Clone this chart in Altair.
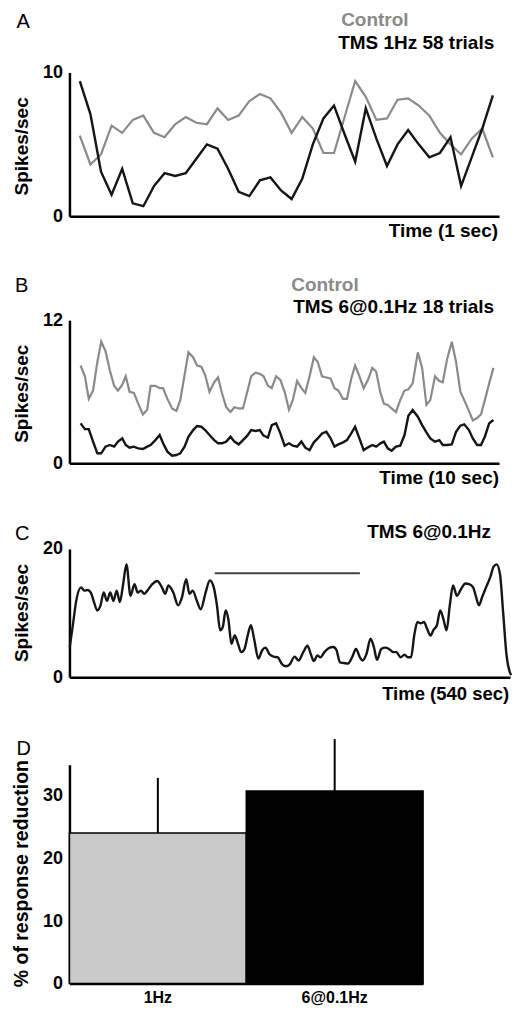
import altair as alt
import pandas as pd

FONT = "Liberation Sans"
GRAY = "#8a8a8a"
BLACK = "#151515"

# ---------------- Panel A data (1 s, 25 ms bins) ----------------
TIME_A = [12.5, 37.5, 62.5, 87.5, 112.5, 137.5, 162.5, 187.5, 212.5, 237.5,
          262.5, 287.5, 312.5, 337.5, 362.5, 387.5, 412.5, 437.5, 462.5, 487.5,
          512.5, 537.5, 562.5, 587.5, 612.5, 637.5, 662.5, 687.5, 712.5, 737.5,
          762.5, 787.5, 812.5, 837.5, 862.5, 887.5, 912.5, 937.5, 962.5, 987.5]
CONTROL_A = [5.6, 3.6, 4.3, 6.3, 5.8, 6.7, 7.0, 5.8, 5.5, 6.4,
             6.9, 6.5, 6.4, 7.5, 6.7, 7.0, 8.0, 8.5, 8.2, 7.2,
             5.8, 6.9, 6.1, 4.4, 4.4, 6.9, 9.4, 8.3, 6.7, 6.8,
             8.1, 8.2, 7.7, 7.0, 5.8, 5.0, 4.3, 5.4, 6.1, 4.1]
TMS_A = [9.4, 7.1, 3.1, 1.5, 3.3, 0.9, 0.7, 2.1, 3.0, 2.8,
         3.0, 4.0, 5.0, 4.7, 3.3, 1.7, 1.4, 2.5, 2.7, 1.8,
         1.2, 2.6, 5.0, 6.8, 7.7, 5.7, 3.8, 7.5, 5.4, 3.5,
         5.0, 6.0, 5.0, 4.1, 4.4, 5.5, 2.1, 4.1, 6.1, 8.4]

# ---------------- Panel B data (10 s) ----------------
TIME_B = [0.26, 0.36, 0.45, 0.55, 0.65, 0.74, 0.84, 0.94, 1.04, 1.13,
          1.23, 1.31, 1.40, 1.50, 1.60, 1.71, 1.81, 1.89, 2.00, 2.10,
          2.18, 2.28, 2.39, 2.49, 2.58, 2.68, 2.77, 2.88, 2.97, 3.07,
          3.16, 3.26, 3.37, 3.46, 3.55, 3.65, 3.75, 3.84, 3.94, 4.04,
          4.14, 4.23, 4.33, 4.43, 4.52, 4.62, 4.71, 4.81, 4.91, 5.01,
          5.11, 5.20, 5.30, 5.40, 5.49, 5.59, 5.69, 5.78, 5.88, 5.98,
          6.08, 6.17, 6.26, 6.37, 6.46, 6.56, 6.65, 6.75, 6.85, 6.95,
          7.05, 7.14, 7.24, 7.32, 7.41, 7.50, 7.60, 7.70, 7.80, 7.89,
          7.99, 8.11, 8.21, 8.31, 8.40, 8.51, 8.61, 8.69, 8.79, 8.90,
          9.00, 9.10, 9.19, 9.30, 9.39, 9.49, 9.58, 9.67, 9.77, 9.87]
CONTROL_B = [8.2, 7.3, 5.4, 6.1, 8.5, 10.2, 9.4, 7.8, 6.5, 6.1,
             6.6, 7.3, 6.0, 5.9, 5.0, 4.1, 4.5, 6.5, 6.5, 6.3,
             6.3, 5.4, 4.6, 4.4, 5.3, 7.4, 9.3, 8.9, 8.2, 8.1,
             7.4, 6.0, 6.8, 7.2, 5.9, 4.7, 4.3, 4.7, 4.6, 4.6,
             6.0, 7.3, 7.6, 7.5, 7.3, 6.5, 6.3, 7.3, 7.0, 6.0,
             4.5, 5.3, 6.9, 6.3, 5.9, 7.3, 8.9, 8.5, 7.3, 7.2,
             7.1, 6.3, 6.1, 5.4, 5.4, 7.1, 8.2, 7.3, 6.3, 7.0,
             8.0, 7.7, 5.9, 5.0, 4.9, 4.6, 4.3, 5.3, 6.1, 6.2,
             6.7, 9.3, 8.0, 4.9, 5.3, 7.3, 6.9, 6.8, 8.7, 10.2,
             8.5, 6.0, 5.3, 4.4, 3.6, 3.8, 4.1, 5.3, 6.7, 8.0]
TMS_B = [3.35, 2.87, 2.87, 1.82, 0.84, 0.84, 1.40, 1.54, 1.40, 1.82,
         2.09, 1.54, 1.31, 1.40, 1.26, 1.20, 1.40, 1.54, 1.95, 2.37,
         1.68, 0.98, 0.64, 0.70, 0.84, 1.40, 2.23, 2.79, 3.13, 3.07,
         2.79, 2.37, 1.95, 1.68, 1.68, 1.82, 2.23, 1.82, 1.59, 1.95,
         2.32, 2.79, 2.71, 2.79, 2.32, 2.15, 3.21, 3.35, 2.51, 1.48,
         1.68, 1.48, 1.40, 1.82, 1.31, 1.11, 1.76, 2.09, 2.51, 2.65,
         2.09, 1.40, 1.59, 1.76, 1.95, 2.51, 3.07, 2.09, 1.11, 1.34,
         1.54, 1.40, 1.68, 1.82, 1.26, 1.06, 1.40, 1.48, 2.37, 3.99,
         4.47, 3.91, 3.21, 2.60, 2.09, 1.82, 1.95, 1.54, 1.54, 1.59,
         2.65, 3.16, 3.27, 2.79, 2.09, 1.54, 1.54, 2.23, 3.35, 3.63]

# ---------------- Panel C data (540 s) ----------------
TIME_C = [0.4, 4.4, 8.3, 14.3, 18.2, 22.2, 26.2, 30.1, 34.1, 38.1,
          42.0, 46.0, 50.0, 53.9, 57.9, 61.8, 65.8, 69.8, 74.9, 79.7,
          83.6, 87.7, 91.6, 95.5, 101.5, 107.4, 113.4, 117.4, 121.3, 127.3,
          133.2, 138.0, 143.1, 147.1, 151.1, 156.2, 160.9, 166.9, 172.1, 176.9,
          180.8, 184.7, 187.9, 191.5, 194.7, 198.6, 202.6, 206.6, 210.5, 214.5,
          218.5, 222.4, 226.3, 231.6, 236.3, 240.3, 245.0, 250.1, 255.4, 260.1,
          265.2, 270.0, 275.9, 280.7, 286.6, 291.8, 295.8, 299.7, 303.7, 307.7,
          312.5, 317.6, 323.5, 327.4, 331.5, 336.2, 341.4, 346.5, 351.2, 356.0,
          359.2, 364.0, 369.1, 373.1, 377.0, 382.2, 386.9, 391.7, 396.9, 400.8,
          405.9, 410.7, 414.7, 418.7, 422.6, 426.6, 430.6, 434.5, 438.5, 442.5,
          446.4, 450.4, 454.4, 458.3, 462.3, 466.2, 470.2, 474.9, 480.2, 485.3,
          490.0, 494.8, 498.0, 501.9, 505.9, 510.6, 515.8, 519.8, 523.7, 527.7,
          531.7, 535.6, 539.7, 541.5]
RATE_C = [4.7, 8.3, 11.9, 14.0, 13.5, 13.6, 13.2, 11.7, 10.4, 11.2,
          13.2, 11.9, 13.2, 11.9, 13.5, 11.7, 14.5, 17.6, 12.7, 14.5,
          13.2, 13.5, 13.0, 13.5, 14.5, 15.0, 14.0, 13.0, 14.3, 13.2,
          11.2, 12.5, 15.3, 13.0, 13.5, 11.9, 10.6, 13.2, 15.1, 14.0,
          11.2, 7.3, 7.8, 10.4, 9.1, 5.2, 6.5, 5.2, 3.9, 4.4,
          6.5, 8.1, 6.0, 2.9, 4.2, 4.6, 3.6, 3.2, 3.1, 2.1,
          1.7, 2.0, 3.2, 2.6, 3.9, 4.9, 3.6, 2.5, 3.4, 3.1,
          3.9, 4.5, 4.7, 4.2, 2.3, 2.2, 2.1, 3.1, 4.4, 3.1,
          2.6, 3.6, 6.0, 4.7, 2.7, 4.4, 4.6, 4.4, 3.9, 3.9,
          3.1, 3.5, 3.1, 3.1, 6.5, 8.6, 8.4, 8.6, 7.5, 6.5,
          7.4, 8.1, 10.4, 9.1, 7.3, 11.2, 14.3, 12.7, 13.8, 14.6,
          14.5, 14.0, 12.7, 11.2, 12.5, 14.0, 15.6, 17.2, 17.6, 16.1,
          9.9, 3.6, 0.8, 0.3]
STIM_PERIOD = [178, 356]   # seconds, TMS period bar
STIM_LEVEL = [16.2]

# ---------------- Panel D data ----------------
CONDITIONS = ["1Hz", "6@0.1Hz"]
REDUCTION = [24.1, 30.8]
ERROR = [8.8, 8.3]


def text(txt, x, y, size=19, weight="bold", color="black", align="left", angle=0):
    return alt.Chart(pd.DataFrame({"s": [txt]})).mark_text(
        font=FONT, fontSize=size, fontWeight=weight, color=color,
        align=align, baseline="alphabetic", angle=angle
    ).encode(x=alt.value(x), y=alt.value(y), text="s:N")


def yaxis(values):
    return alt.Axis(values=values, title=None, grid=False, ticks=False, labelFlush=False,
                    labelFont=FONT, labelFontSize=18, labelFontWeight="bold", labelColor="black",
                    labelPadding=7, domainColor="black", domainWidth=2.5)


XAXIS = alt.Axis(title=None, grid=False, ticks=False, labels=False,
                 domainColor="black", domainWidth=2.5)


def trace_panel(times, control, tms, xdom, ydom, yvals):
    df = pd.DataFrame({"t": times, "control": control, "tms": tms})
    x = alt.X("t:Q", scale=alt.Scale(domain=xdom, nice=False, zero=False), axis=XAXIS)
    g = alt.Chart(df).mark_line(color=GRAY, strokeWidth=2.2).encode(
        x=x, y=alt.Y("control:Q", scale=alt.Scale(domain=ydom, nice=False), axis=yaxis(yvals)))
    b = alt.Chart(df).mark_line(color=BLACK, strokeWidth=2.4).encode(
        x=x, y=alt.Y("tms:Q", scale=alt.Scale(domain=ydom, nice=False), axis=yaxis(yvals)))
    return g, b


# Panel A
WA, HA = 430, 144
gA, bA = trace_panel(TIME_A, CONTROL_A, TMS_A, [-12, 1002], [0, 10], [0, 10])
panelA = alt.layer(
    gA, bA,
    text("A", -53, -44, size=20, weight="normal"),
    text("Control", 272, -46, color=GRAY),
    text("TMS 1Hz 58 trials", 269, -23),
    text("Spikes/sec", -41.5, HA / 2 + 2, angle=270, align="center"),
    text("Time (1 sec)", WA - 1, HA + 21, align="right"),
).properties(width=WA, height=HA)

# Panel B
WB, HB = 430, 143.3
gB, bB = trace_panel(TIME_B, CONTROL_B, TMS_B, [0, 10], [0, 12], [0, 12])
panelB = alt.layer(
    gB, bB,
    text("B", -54.5, -28.5, size=20, weight="normal"),
    text("Control", 222, -29, color=GRAY),
    text("TMS 6@0.1Hz 18 trials", 224, -7),
    text("Spikes/sec", -41.5, HB / 2 + 2, angle=270, align="center"),
    text("Time (10 sec)", WB, HB + 21, align="right"),
).properties(width=WB, height=HB)

# Panel C
WC, HC = 441, 128.3
dfC = pd.DataFrame({"t": TIME_C, "rate": RATE_C})
xC = alt.X("t:Q", scale=alt.Scale(domain=[0, 540], nice=False, zero=False), axis=XAXIS)
lineC = alt.Chart(dfC).mark_line(color=BLACK, strokeWidth=2.4, interpolate="monotone").encode(
    x=xC, y=alt.Y("rate:Q", scale=alt.Scale(domain=[0, 20], nice=False), axis=yaxis([0, 20])))
barC = alt.Chart(pd.DataFrame({"t0": [STIM_PERIOD[0]], "t1": [STIM_PERIOD[1]], "lvl": STIM_LEVEL})).mark_rule(
    color="#444444", strokeWidth=2).encode(
    x=alt.X("t0:Q", scale=alt.Scale(domain=[0, 540], nice=False, zero=False), axis=XAXIS),
    x2="t1:Q",
    y=alt.Y("lvl:Q", scale=alt.Scale(domain=[0, 20], nice=False), axis=yaxis([0, 20])))
panelC = alt.layer(
    lineC, barC,
    text("C", -54.5, -9, size=20, weight="normal"),
    text("TMS 6@0.1Hz", 298, -11),
    text("Spikes/sec", -41.5, HC / 2, angle=270, align="center"),
    text("Time (540 sec)", 313, HC + 23, size=18.5),
).properties(width=WC, height=HC)

# Panel D
WD, HD = 354, 219
dfD = pd.DataFrame({"cond": CONDITIONS, "mean": REDUCTION,
                    "upper": [m + e for m, e in zip(REDUCTION, ERROR)]})
xD = alt.X("cond:N", sort=CONDITIONS,
           scale=alt.Scale(paddingInner=0, paddingOuter=0),
           axis=alt.Axis(title=None, labelAngle=0, ticks=False, grid=False,
                         labelFont=FONT, labelFontSize=16, labelFontWeight="bold",
                         labelColor="black", labelPadding=6,
                         domainColor="black", domainWidth=2.5))
yD = alt.Y("mean:Q", scale=alt.Scale(domain=[0, 35], nice=False), axis=yaxis([0, 10, 20, 30]))
barsD = alt.Chart(dfD).mark_bar(stroke="black", strokeWidth=1.5).encode(
    x=xD, y=yD,
    color=alt.Color("cond:N", scale=alt.Scale(domain=CONDITIONS, range=["#c9c9c9", "#000000"]), legend=None))
errD = alt.Chart(dfD).mark_rule(color="black", strokeWidth=2).encode(
    x=xD, y=yD, y2="upper:Q")
panelD = alt.layer(
    errD, barsD,
    text("D", -53, -10, size=20, weight="normal"),
    text("% of response reduction", -41, 109, size=19.5, angle=270, align="center"),
).properties(width=WD, height=HD)

inner_cd = alt.vconcat(panelC, panelD, spacing=87, bounds="flush")
inner_bcd = alt.vconcat(panelB, inner_cd, spacing=85, bounds="flush")
chart = alt.vconcat(panelA, inner_bcd, spacing=104, bounds="flush").properties(
    padding={"left": 3.5, "top": 3, "right": 0, "bottom": 0}
).configure_view(strokeWidth=0)

chart.save("out.html", embed_options={"renderer": "svg", "actions": False})
